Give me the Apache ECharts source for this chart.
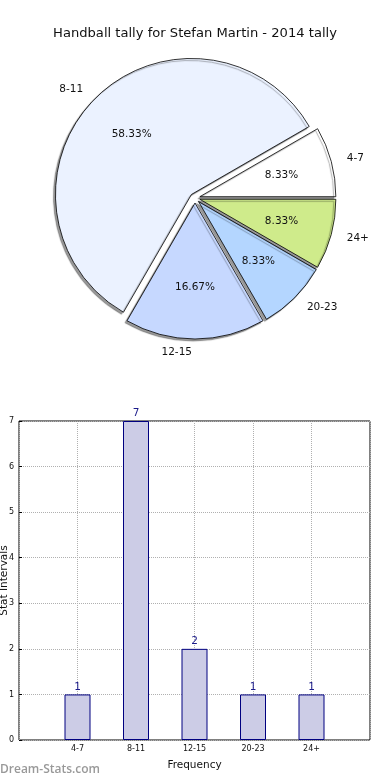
<!DOCTYPE html>
<html>
<head>
<meta charset="utf-8">
<script src="https://cdn.jsdelivr.net/npm/echarts@6/dist/echarts.min.js"></script>
<style>
html,body{margin:0;padding:0;background:#fff;}
#main{width:390px;height:780px;}
</style>
</head>
<body>
<div id="main"></div>
<script>
var categories = ['4-7', '8-11', '12-15', '20-23', '24+'];
var counts = [1, 7, 2, 1, 1];
var sliceColors = ['#ffffff', '#ebf2ff', '#c6d8ff', '#b4d6ff', '#cfeb8b'];
var yTicks = [0, 1, 2, 3, 4, 5, 6, 7];

var chart = echarts.init(document.getElementById('main'), null, {renderer: 'canvas'});
var FONT = 'DejaVu Sans';
var CX = 195, CY = 198, R = 136, EXPLODE = 5;
var total = counts.reduce(function (a, b) { return a + b; }, 0);

var pieData = categories.map(function (c, i) {
  return {name: c, value: counts[i], selected: true,
    itemStyle: {color: sliceColors[i]}};
});
var pctData = categories.map(function (c, i) {
  return {name: c, value: counts[i], selected: true};
});
var axisCats = [''].concat(categories).concat(['']);
var barData = [null].concat(counts).concat([null]);

var option = {
  animation: false,
  backgroundColor: '#ffffff',
  title: {
    text: 'Handball tally for Stefan Martin - 2014 tally',
    left: 'center', top: 22,
    textStyle: {fontFamily: FONT, fontSize: 13.1, fontWeight: 'normal', color: '#111'}
  },
  graphic: [{
    type: 'text', left: 0, top: 764,
    style: {text: 'Dream-Stats.com', fill: '#999999', font: '600 12px "Open Sans"'}
  }],
  grid: {left: 19, right: 20, top: 421, bottom: 40, show: true, borderColor: '#000', borderWidth: 1,
    containLabel: false, outerBoundsMode: 'none'},
  xAxis: {
    type: 'category', data: axisCats, boundaryGap: false,
    name: 'Frequency', nameLocation: 'middle', nameGap: 20, nameMoveOverlap: false,
    nameTextStyle: {fontFamily: FONT, fontSize: 10.5, color: '#111'},
    axisLine: {show: false},
    axisTick: {show: false},
    axisLabel: {fontFamily: FONT, fontSize: 8, color: '#111', margin: 5, interval: 0},
    splitLine: {show: true, interval: 0, lineStyle: {type: 'dotted', color: '#b0b0b0', width: 1}}
  },
  yAxis: {
    type: 'value', min: 0, max: 7, interval: 1,
    name: 'Stat Intervals', nameLocation: 'middle', nameGap: 9, nameRotate: 90, nameMoveOverlap: false,
    nameTextStyle: {fontFamily: FONT, fontSize: 10.5, color: '#111'},
    axisLine: {show: false},
    axisTick: {show: true, inside: true, length: 3, lineStyle: {color: '#000'}},
    axisLabel: {fontFamily: FONT, fontSize: 8, color: '#111', margin: 5,
      formatter: function (v) { return yTicks.indexOf(v) >= 0 ? String(v) : ''; }},
    splitLine: {show: true, lineStyle: {type: 'dotted', color: '#b0b0b0', width: 1}}
  },
  series: [
    {
      type: 'pie', center: [CX, CY], radius: [0, R],
      startAngle: 0, clockwise: false,
      selectedMode: 'multiple', selectedOffset: EXPLODE,
      avoidLabelOverlap: false,
      itemStyle: {borderColor: '#000', borderWidth: 0.8,
        shadowColor: 'rgba(0,0,0,0.4)', shadowBlur: 1, shadowOffsetX: -2, shadowOffsetY: 2},
      select: {itemStyle: {borderColor: '#000', borderWidth: 0.8}},
      emphasis: {disabled: true},
      label: {show: true, position: 'outside', formatter: '{b}',
        fontFamily: FONT, fontSize: 10.5, color: '#111', distanceToLabelLine: 3},
      labelLine: {show: false, length: 13, length2: 0},
      data: pieData, z: 2
    },
    {
      type: 'pie', center: [CX, CY], radius: [0, R * 1.2],
      startAngle: 0, clockwise: false, silent: true,
      selectedMode: 'multiple', selectedOffset: EXPLODE,
      itemStyle: {color: 'rgba(0,0,0,0)', borderWidth: 0},
      select: {itemStyle: {color: 'rgba(0,0,0,0)', borderWidth: 0}},
      emphasis: {disabled: true},
      label: {show: true, position: 'inside',
        formatter: function (p) { return (p.value / total * 100).toFixed(2) + '%'; },
        fontFamily: FONT, fontSize: 10.5, color: '#111'},
      labelLine: {show: false},
      data: pctData, z: 3
    },
    {
      type: 'bar', data: barData, barWidth: 26,
      itemStyle: {color: '#ccccE6', borderColor: '#000080', borderWidth: 1},
      label: {show: true, position: 'top', distance: 2,
        fontFamily: FONT, fontSize: 10.5, color: '#1a1a8a'},
      emphasis: {disabled: true}
    }
  ]
};
chart.setOption(option);
</script>
</body>
</html>
